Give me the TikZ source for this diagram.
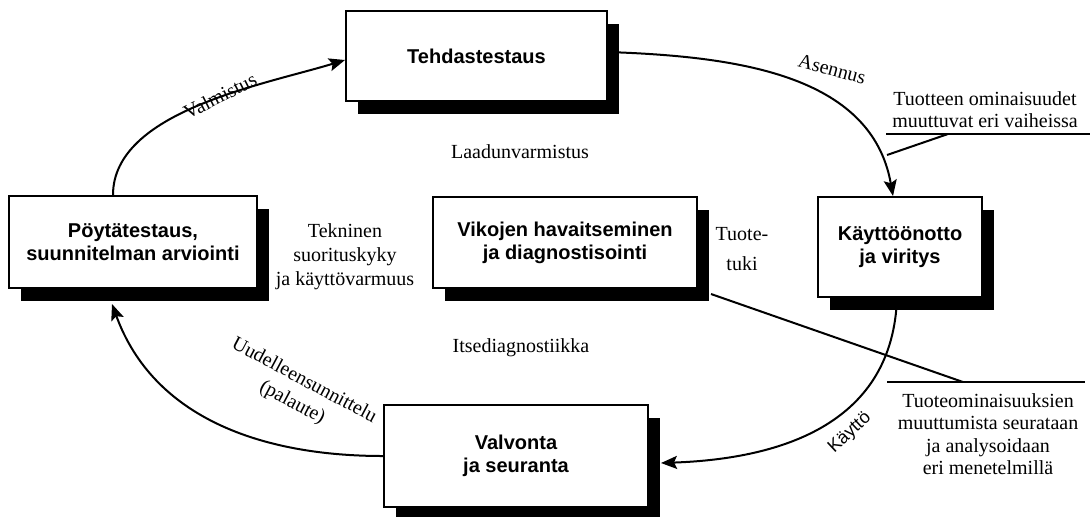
\documentclass[tikz,border=0pt]{standalone}
\usepackage{fontspec}
\setmainfont{Liberation Serif}
\setsansfont{Liberation Sans}
\usepackage{tikz}
\usetikzlibrary{arrows.meta, shadows}

\begin{document}
\begin{tikzpicture}[x=0.5pt, y=0.5pt, line width=1pt, font=\fontsize{10}{12}\selectfont]
      \tikzstyle{arrow} = [line width=1pt, -{Stealth[length=8pt, width=6.5pt, inset=1.5pt]}]
      \tikzstyle{phase} = [rectangle, draw=black, line width=1pt, fill=white, align=center, font=\sffamily\bfseries\fontsize{10}{11.5}\selectfont, drop shadow={shadow xshift=6pt, shadow yshift=-6.5pt, opacity=1, fill=black}]
      \tikzstyle{note} = [align=center, inner sep=0pt]
      \useasboundingbox (0,0) rectangle (1090,-516);
      \node (teh) [phase, minimum width=130.5pt, minimum height=45pt] at (476.5,-56) {Tehdastestaus};
      \node (poy) [phase, minimum width=124pt, minimum height=46pt] at (133,-242) {Pöytätestaus,\\suunnitelman arviointi};
      \node (vik) [phase, minimum width=132pt, minimum height=45.5pt] at (565,-242.5) {Vikojen havaitseminen\\ja diagnostisointi};
      \node (kay) [phase, minimum width=82pt, minimum height=50pt] at (900,-247) {Käyttöönotto\\ja viritys};
      \node (val) [phase, minimum width=132pt, minimum height=51pt] at (516,-456) {Valvonta\\ja seuranta};
      \node (laatu) [] at (520,-152) {Laadunvarmistus};
      \node (tekn) [note] at (345,-257) {Tekninen\\suorituskyky\\ja käyttövarmuus};
      \node (tuki) [note, font=\fontsize{10}{15}\selectfont] at (742,-249) {Tuote-\\tuki};
      \node (itse) [] at (521,-348) {Itsediagnostiikka};
      \node (tuotteen) [note, font=\fontsize{10}{11}\selectfont] at (985,-110) {Tuotteen ominaisuudet\\muuttuvat eri vaiheissa};
      \node (seuranta) [note, font=\fontsize{10}{11.25}\selectfont] at (988,-434) {Tuoteominaisuuksien\\muuttumista seurataan\\ja analysoidaan\\eri menetelmillä};
      \node (valm) [rotate=27] at (220,-96) {Valmistus};
      \node (asen) [rotate=-15] at (832,-69) {Asennus};
      \node (kaytto) [rotate=43, font=\sffamily\fontsize{9}{11}\selectfont] at (850,-433) {Käyttö};
      \node (uudel) [note, rotate=-28, font=\fontsize{10}{12.5}\selectfont] at (298,-392) {Uudelleensunnittelu\\(palaute)};
      \coordinate (tuoL) at (886,-134);
      \coordinate (tuoR) at (1090,-134);
      \coordinate (tuoP) at (948,-134);
      \coordinate (tuoE) at (887,-155);
      \coordinate (seuL) at (887,-382);
      \coordinate (seuR) at (1085,-382);
      \coordinate (seuP) at (963,-382);
      \draw [arrow] ([xshift=-10pt]poy.north) to[out=90, in=197, looseness=0.8] ([yshift=-2pt]teh.west);
      \draw [arrow] ([yshift=2pt]teh.east) to[out=-2, in=100] ([xshift=-3.5pt]kay.north);
      \draw [arrow] ([xshift=-1.5pt]kay.south) to[out=-92, in=2, looseness=1.1] ([xshift=6pt, yshift=-3.5pt]val.east);
      \draw [arrow] (val.west) to[out=180, in=-70] ([xshift=-10.5pt, yshift=-7.5pt]poy.south);
      \draw (tuoL) -- (tuoR);
      \draw (tuoP) -- (tuoE);
      \draw ([xshift=6.5pt, yshift=-2.5pt]vik.south east) -- (seuP);
      \draw (seuL) -- (seuR);
  \end{tikzpicture}
\end{document}
